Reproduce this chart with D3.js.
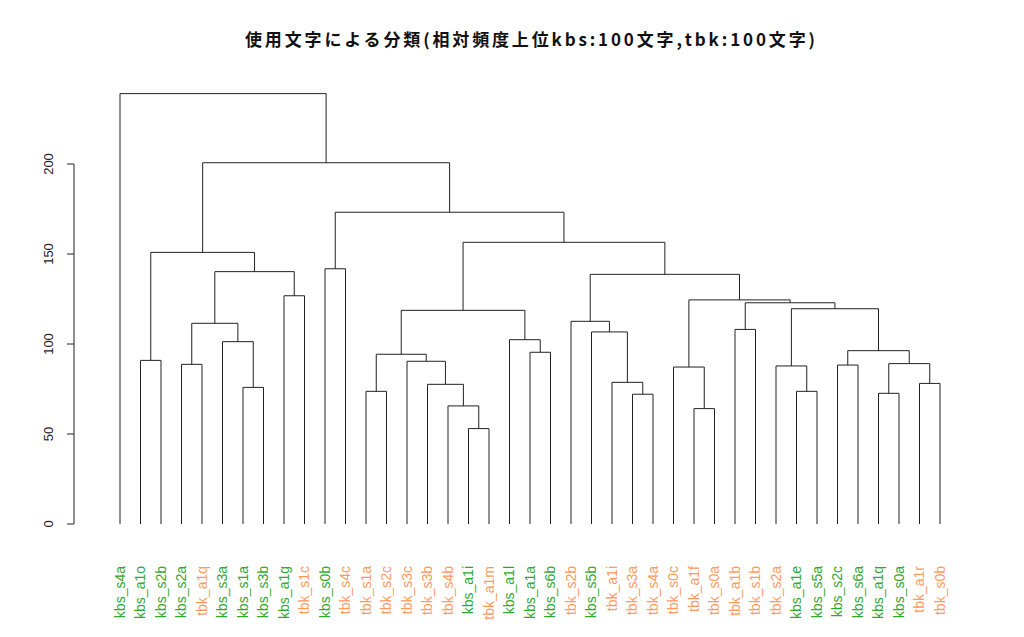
<!DOCTYPE html>
<html><head><meta charset="utf-8">
<script src="https://cdn.jsdelivr.net/npm/d3@7"></script>
<style>body{margin:0;background:#fff}svg{display:block}</style>
</head><body>
<script>
const title = "使用文字による分類(相対頻度上位kbs:100文字,tbk:100文字)";
const labels = ["kbs_s4a","kbs_a1o","kbs_s2b","kbs_s2a","tbk_a1q","kbs_s3a","kbs_s1a","kbs_s3b","kbs_a1g","tbk_s1c",
  "kbs_s0b","tbk_s4c","tbk_s1a","tbk_s2c","tbk_s3c","tbk_s3b","tbk_s4b","kbs_a1i","tbk_a1m","kbs_a1l",
  "kbs_a1a","kbs_s6b","tbk_s2b","kbs_s5b","tbk_a1i","tbk_s3a","tbk_s4a","tbk_s0c","tbk_a1f","tbk_s0a",
  "tbk_a1b","tbk_s1b","tbk_s2a","kbs_a1e","kbs_s5a","kbs_s2c","kbs_s6a","kbs_a1q","kbs_s0a","tbk_a1r","tbk_s0b"];
// hclust-style merge table: negative = leaf (1-based), positive = earlier merge (1-based)
const merges = [[-18,-19],[-29,-30],[-17,1],[-26,-27],[-38,-39],[-13,-14],[-34,-35],[-7,-8],[-16,3],[-40,-41],
  [-25,4],[-28,2],[-33,7],[-36,-37],[-4,-5],[5,10],[-15,9],[-2,-3],[6,17],[-21,-22],
  [14,16],[-6,8],[-20,20],[-24,11],[-31,-32],[15,22],[-23,24],[19,23],[13,21],[25,29],
  [12,30],[-9,-10],[27,31],[26,32],[-11,-12],[18,34],[28,33],[35,37],[36,38],[-1,39]];
const heights = [53.0,64.1,65.6,72.1,72.6,73.7,73.7,75.9,77.6,78.1,
  78.7,87.2,87.8,88.3,88.7,89.1,90.4,90.9,94.3,95.4,
  96.3,101.3,102.4,106.7,108.1,111.5,112.6,118.7,119.6,122.9,
  124.5,126.8,138.7,140.2,141.8,150.9,156.5,173.2,200.7,239.1];
const yTicks = [0,50,100,150,200];
const groupColor = {kbs:"#2fa82f", tbk:"#ff9a5c"};

const W=1024,H=637;
const svg=d3.select("body").append("svg").attr("width",W).attr("height",H);
const x=d3.scalePoint().domain(labels).range([120,940]);
const y=d3.scaleLinear().domain([0,200]).range([524,164]);

const nodeX=[], nodeH=[];
function pos(i){ return i<0 ? {x:x(labels[-i-1]),h:0} : {x:nodeX[i-1],h:nodeH[i-1]}; }
const g=svg.append("g").attr("fill","none").attr("stroke","#222").attr("stroke-width",1);
merges.forEach((m,k)=>{
  const a=pos(m[0]), b=pos(m[1]), h=heights[k];
  nodeX[k]=(a.x+b.x)/2; nodeH[k]=h;
  g.append("path").attr("d",`M${a.x},${y(a.h)}V${y(h)}H${b.x}V${y(b.h)}`);
});

// y axis
const ax=svg.append("g").attr("stroke","#222");
ax.append("line").attr("x1",74).attr("x2",74).attr("y1",y(0)).attr("y2",y(200));
yTicks.forEach(t=>{
  ax.append("line").attr("x1",67).attr("x2",74).attr("y1",y(t)).attr("y2",y(t));
  svg.append("text").attr("transform",`translate(53,${y(t)}) rotate(-90)`)
    .attr("text-anchor","middle").attr("font-family","Liberation Sans, Arial, sans-serif")
    .attr("font-size",13).attr("fill","#222").text(t);
});

// leaf labels
labels.forEach(l=>{
  svg.append("text").attr("transform",`translate(${x(l)+4.5},566) rotate(-90)`)
    .attr("text-anchor","end").attr("font-family","Liberation Sans, Arial, sans-serif")
    .attr("font-size",14).attr("fill",groupColor[l.slice(0,3)]).text(l);
});

svg.append("text").attr("x",245).attr("y",46)
  .attr("textLength",570).attr("lengthAdjust","spacing")
  .attr("font-family","Noto Sans CJK JP, sans-serif").attr("font-weight","bold")
  .attr("font-size",17).attr("fill","#111").text(title);
</script>
</body></html>
